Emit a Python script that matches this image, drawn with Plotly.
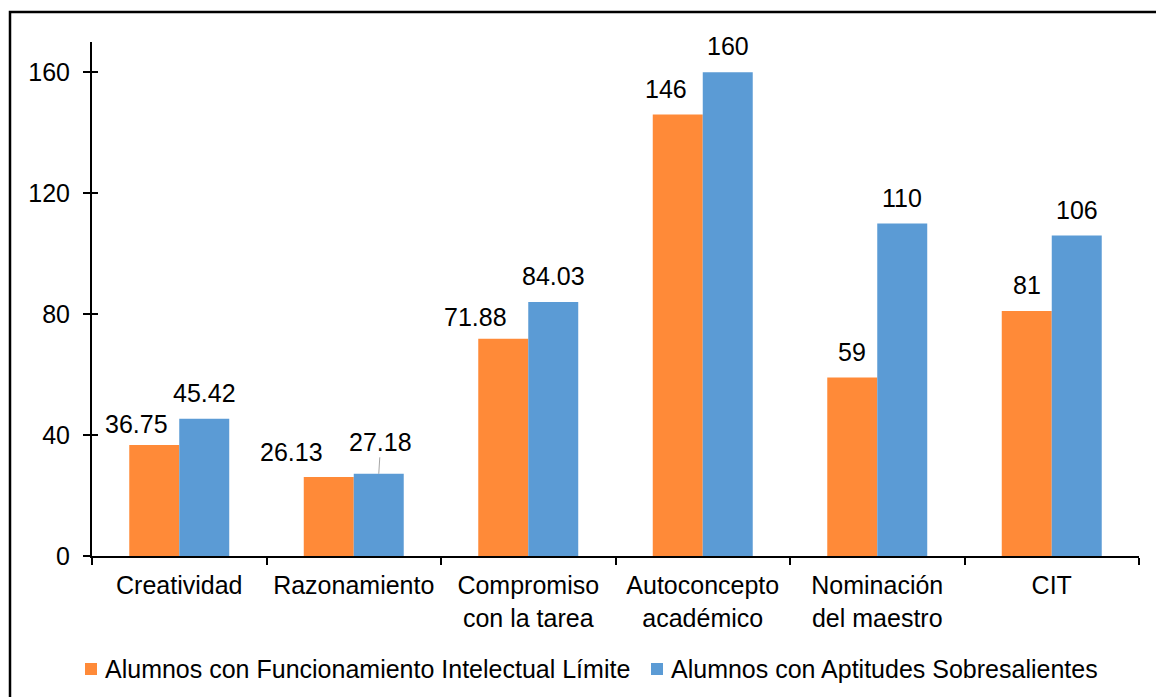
import plotly.graph_objects as go

# Chart data
categories = ["Creatividad", "Razonamiento", "Compromiso<br>con la tarea",
              "Autoconcepto<br>académico", "Nominación<br>del maestro", "CIT"]
series_names = ["Alumnos con Funcionamiento Intelectual Límite",
                "Alumnos con Aptitudes Sobresalientes"]
fil_values = [36.75, 26.13, 71.88, 146, 59, 81]
aas_values = [45.42, 27.18, 84.03, 160, 110, 106]
fil_labels = ["36.75", "26.13", "71.88", "146", "59", "81"]
aas_labels = ["45.42", "27.18", "84.03", "160", "110", "106"]
y_ticks = [0, 40, 80, 120, 160]

ORANGE = "#FF8A38"
BLUE = "#5B9BD5"
FONT = "Liberation Sans, Arial, sans-serif"
FS = 25

# plot-area geometry in pixels (used to place the legend in paper units)
L, R, T, B = 92, 17, 42, 141
W, H = 1156, 697
PW, PH = W - L - R, H - T - B


def px_x(px):
    return (px - L) / PW


def px_y(py):
    return (H - B - py) / PH


fig = go.Figure()
fig.add_trace(go.Bar(x=categories, y=fil_values, name=series_names[0],
                     marker=dict(color=ORANGE, line=dict(width=0)), showlegend=False))
fig.add_trace(go.Bar(x=categories, y=aas_values, name=series_names[1],
                     marker=dict(color=BLUE, line=dict(width=0)), showlegend=False))
# invisible trace carrying the overlay axis used for the inner half of the y ticks
fig.add_trace(go.Scatter(x=[categories[0]], y=[0], yaxis="y2", mode="markers",
                         marker=dict(opacity=0), showlegend=False, hoverinfo="skip"))

BAR_OFF = 25  # half a bar width in px

# label offsets (px) relative to the top centre of each bar
fil_shift = [(-18, 21), (-37, 25), (-28, 22), (-12, 26), (0, 26), (0, 26)]
aas_shift = [(0, 26), None, (0, 26), (0, 26), (0, 25), (0, 26)]

annotations = []
for i, cat in enumerate(categories):
    dx, dy = fil_shift[i]
    annotations.append(dict(x=cat, y=fil_values[i], xref="x", yref="y",
                            text=fil_labels[i], showarrow=False,
                            xshift=-BAR_OFF + dx, yshift=dy,
                            xanchor="center", yanchor="middle",
                            font=dict(family=FONT, size=FS, color="#000000")))
    if aas_shift[i] is None:
        annotations.append(dict(x=cat, y=aas_values[i], xref="x", yref="y",
                                text=aas_labels[i], showarrow=True,
                                arrowhead=0, arrowwidth=1, arrowcolor="#A6A6A6",
                                standoff=0, startstandoff=0,
                                ax=2, ay=-32, xshift=BAR_OFF,
                                font=dict(family=FONT, size=FS, color="#000000")))
    else:
        dx, dy = aas_shift[i]
        annotations.append(dict(x=cat, y=aas_values[i], xref="x", yref="y",
                                text=aas_labels[i], showarrow=False,
                                xshift=BAR_OFF + dx, yshift=dy,
                                xanchor="center", yanchor="middle",
                                font=dict(family=FONT, size=FS, color="#000000")))

# legend: colour squares followed by series names
legend_items = [(85, 103, ORANGE, series_names[0]), (651, 669, BLUE, series_names[1])]
LEG_Y = 669
shapes = []
for sq_x, tx_x, col, name in legend_items:
    shapes.append(dict(type="rect", xref="paper", yref="paper",
                       x0=px_x(sq_x), x1=px_x(sq_x + 12),
                       y0=px_y(LEG_Y + 6), y1=px_y(LEG_Y - 6),
                       fillcolor=col, line=dict(width=0)))
    annotations.append(dict(x=px_x(tx_x), y=px_y(LEG_Y), xref="paper", yref="paper",
                            text=name, showarrow=False, xanchor="left", yanchor="middle",
                            font=dict(family=FONT, size=FS, color="#000000")))

# outer chart frame
shapes.append(dict(type="rect", xref="paper", yref="paper",
                   x0=px_x(10), x1=1.2, y0=-0.6, y1=px_y(12),
                   line=dict(color="#000000", width=2.5), fillcolor="rgba(0,0,0,0)",
                   layer="above"))

fig.update_layout(
    width=W, height=H,
    margin=dict(l=L, r=R, t=T, b=B, pad=0),
    paper_bgcolor="white", plot_bgcolor="white",
    barmode="group", bargap=0.427, bargroupgap=0,
    font=dict(family=FONT, size=FS, color="#000000"),
    showlegend=False,
    xaxis=dict(showline=True, linecolor="#000000", linewidth=2,
               ticks="outside", tickcolor="#000000", ticklen=7, tickwidth=1.5,
               tickson="boundaries", showgrid=False, zeroline=False,
               tickfont=dict(family=FONT, size=FS, color="#000000"),
               ticklabelstandoff=6),
    yaxis=dict(range=[0, 170], tickvals=y_ticks, showline=True, linecolor="#000000",
               linewidth=2, ticks="outside", tickcolor="#000000", ticklen=7,
               tickwidth=1.5, showgrid=False, zeroline=False,
               tickfont=dict(family=FONT, size=FS, color="#000000"),
               ticklabelstandoff=8),
    yaxis2=dict(range=[0, 170], tickvals=y_ticks, overlaying="y", side="left",
                showline=False, ticks="inside", tickcolor="#000000", ticklen=6,
                tickwidth=1.5, showticklabels=False, showgrid=False, zeroline=False),
    annotations=annotations,
    shapes=shapes,
)

fig.write_html("out.html")
